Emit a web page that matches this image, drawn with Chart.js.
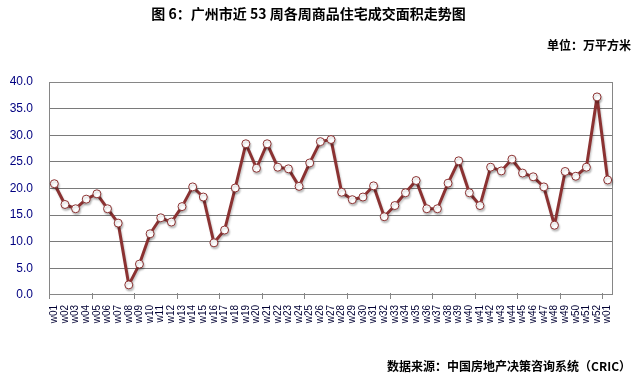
<!DOCTYPE html>
<html>
<head>
<meta charset="utf-8">
<script src="https://cdn.jsdelivr.net/npm/chart.js@4/dist/chart.umd.min.js"></script>
<style>
  body { margin: 0; background: #fff; }
  #wrap { position: relative; width: 635px; height: 378px; }
  .txt { position: absolute; font-family: "Noto Sans CJK SC", sans-serif; font-weight: bold; color: #000; white-space: nowrap; }
  #title { left: 0; width: 617px; top: 3px; text-align: center; font-size: 14px; }
  #unit { right: 4px; top: 36px; font-size: 12px; }
  #source { right: 4px; top: 357px; font-size: 12px; }
</style>
</head>
<body>
<div id="wrap">
  <canvas id="chart" width="635" height="378"></canvas>
  <div class="txt" id="title">图 6：广州市近 53 周各周商品住宅成交面积走势图</div>
  <div class="txt" id="unit">单位：万平方米</div>
  <div class="txt" id="source">数据来源：中国房地产决策咨询系统（CRIC）</div>
</div>
<script>
// week labels (w01..w52, then w01 of next year)
const weeks = ['w01','w02','w03','w04','w05','w06','w07','w08','w09','w10',
  'w11','w12','w13','w14','w15','w16','w17','w18','w19','w20',
  'w21','w22','w23','w24','w25','w26','w27','w28','w29','w30',
  'w31','w32','w33','w34','w35','w36','w37','w38','w39','w40',
  'w41','w42','w43','w44','w45','w46','w47','w48','w49','w50',
  'w51','w52','w01'];

// weekly transaction area, 10k m2
const area = [20.9, 17.0, 16.2, 18.0, 19.0, 16.2, 13.5, 1.9, 5.8, 11.5,
  14.5, 13.7, 16.6, 20.3, 18.4, 9.8, 12.2, 20.1, 28.4, 23.8,
  28.4, 24.0, 23.7, 20.4, 24.8, 28.8, 29.2, 19.3, 17.9, 18.4,
  20.5, 14.7, 16.8, 19.2, 21.5, 16.2, 16.2, 21.0, 25.2, 19.2,
  16.8, 24.0, 23.3, 25.5, 22.9, 22.2, 20.3, 13.1, 23.2, 22.3,
  24.0, 37.2, 21.6];

const yTicks = [0, 5, 10, 15, 20, 25, 30, 35, 40];

// border around plot + little tick marks every 4 weeks
const frame = {
  id: 'frame',
  beforeDatasetsDraw(chart) {
    const { ctx, chartArea: a } = chart;
    ctx.save();
    ctx.strokeStyle = '#868686';
    ctx.lineWidth = 1;
    ctx.strokeRect(a.left + 0.5, a.top + 0.5, a.right - a.left - 1, a.bottom - a.top - 1);
    const step = (a.right - a.left) / weeks.length;
    ctx.beginPath();
    for (let k = 0; k <= weeks.length; k += 4) {
      const x = Math.round(a.left + k * step) + 0.5;
      ctx.moveTo(x, a.bottom - 2);
      ctx.lineTo(x, a.bottom + 4);
    }
    ctx.stroke();
    ctx.restore();
  }
};

// soft shadow under the line
const shadow = {
  id: 'shadow',
  beforeDatasetDraw(chart) {
    const ctx = chart.ctx;
    ctx.save();
    ctx.shadowColor = 'rgba(0,0,0,0.22)';
    ctx.shadowBlur = 2;
    ctx.shadowOffsetX = 1;
    ctx.shadowOffsetY = 2;
  },
  afterDatasetDraw(chart) {
    chart.ctx.restore();
  }
};

new Chart(document.getElementById('chart'), {
  type: 'line',
  data: {
    labels: weeks,
    datasets: [{
      data: area,
      borderColor: '#8B3232',
      borderWidth: 3,
      borderJoinStyle: 'round',
      pointBackgroundColor: '#ffffff',
      pointBorderColor: '#8B3232',
      pointBorderWidth: 1,
      pointRadius: 4,
      tension: 0
    }]
  },
  options: {
    responsive: false,
    animation: false,
    events: [],
    layout: { padding: { top: 82, right: 22, left: 0, bottom: 0 } },
    plugins: { legend: { display: false }, tooltip: { enabled: false } },
    scales: {
      x: {
        offset: true,
        grid: { display: false },
        border: { display: false },
        afterFit(s) { s.height = 83; },
        ticks: {
          autoSkip: false,
          minRotation: 90,
          maxRotation: 90,
          padding: 2,
          color: '#000033',
          font: { family: 'Arial, "Liberation Sans"', size: 10 }
        }
      },
      y: {
        min: 0,
        max: 40,
        afterFit(s) { s.width = 49; },
        afterBuildTicks(s) { s.ticks = yTicks.map(v => ({ value: v })); },
        border: { display: false },
        grid: {
          color: '#7a7a7a',
          borderDash: [1, 2],
          drawTicks: false,
          lineWidth: ctx => (ctx.tick.value === 0 || ctx.tick.value === 40) ? 0 : 1
        },
        ticks: {
          padding: 16,
          color: '#000080',
          font: { family: 'Arial, "Liberation Sans"', size: 12 },
          callback: v => v.toFixed(1)
        }
      }
    }
  },
  plugins: [frame, shadow]
});
</script>
</body>
</html>
